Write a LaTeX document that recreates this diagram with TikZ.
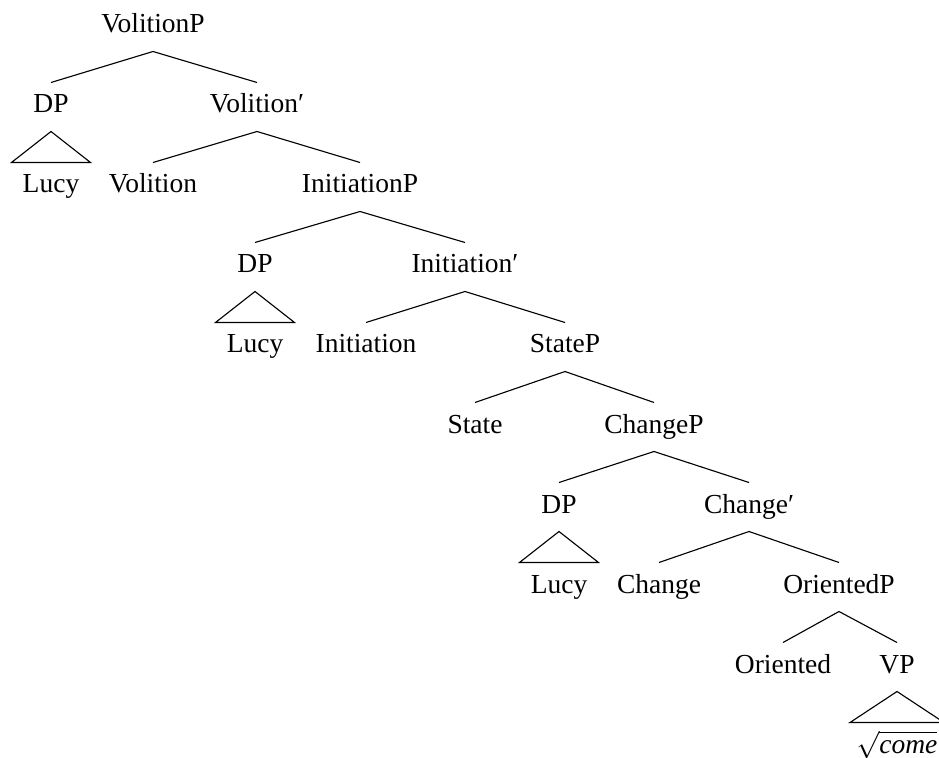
\documentclass[tikz,border=0pt]{standalone}
\usepackage{fontspec}
\setmainfont{Liberation Serif}
\begin{document}
\begin{tikzpicture}[x=0.4pt,y=-0.4pt,
  lab/.style={anchor=base,inner xsep=0pt,inner ysep=4pt,text height=8pt,text depth=3.2pt,font=\fontsize{11}{13}\selectfont},
  edge/.style={line width=0.45pt},
  tri/.style={line width=0.45pt}]
\useasboundingbox (0,0) rectangle (939,758);
% level baselines: 33 + 80 n
\node[lab] (vp) at (153,33) {VolitionP};
\node[lab] (dp1) at (51,113) {DP};
\node[lab] (vbar) at (257,113) {Volition′};
\node[lab] (lucy1) at (51,193) {Lucy};
\node[lab] (vol) at (153,193) {Volition};
\node[lab] (ip) at (360,193) {InitiationP};
\node[lab] (dp2) at (255,273) {DP};
\node[lab] (ibar) at (465,273) {Initiation′};
\node[lab] (lucy2) at (255,353) {Lucy};
\node[lab] (init) at (366,353) {Initiation};
\node[lab] (sp) at (565,353) {StateP};
\node[lab] (state) at (475,433) {State};
\node[lab] (cp) at (654,433) {ChangeP};
\node[lab] (dp3) at (559,513) {DP};
\node[lab] (cbar) at (749,513) {Change′};
\node[lab] (lucy3) at (559,593) {Lucy};
\node[lab] (change) at (659,593) {Change};
\node[lab] (op) at (839,593) {OrientedP};
\node[lab] (orient) at (783,673) {Oriented};
\node[lab] (vpp) at (897,673) {VP};
\node[lab] (come) at (897,753) {$\sqrt{\mbox{\itshape come}}$};
% edges
\draw[edge] (dp1.north) -- (vp.south) -- (vbar.north);
\draw[edge] (vol.north) -- (vbar.south) -- (ip.north);
\draw[edge] (dp2.north) -- (ip.south) -- (ibar.north);
\draw[edge] (init.north) -- (ibar.south) -- (sp.north);
\draw[edge] (state.north) -- (sp.south) -- (cp.north);
\draw[edge] (dp3.north) -- (cp.south) -- (cbar.north);
\draw[edge] (change.north) -- (cbar.south) -- (op.north);
\draw[edge] (orient.north) -- (op.south) -- (vpp.north);
% triangles
\draw[tri] (dp1.south) -- ([xshift=-15.8pt]lucy1.north) -- ([xshift=15.8pt]lucy1.north) -- cycle;
\draw[tri] (dp2.south) -- ([xshift=-15.8pt]lucy2.north) -- ([xshift=15.8pt]lucy2.north) -- cycle;
\draw[tri] (dp3.south) -- ([xshift=-15.8pt]lucy3.north) -- ([xshift=15.8pt]lucy3.north) -- cycle;
\draw[tri] (vpp.south) -- ([xshift=-18.8pt]come.north) -- ([xshift=18.8pt]come.north) -- cycle;
\end{tikzpicture}
\end{document}
